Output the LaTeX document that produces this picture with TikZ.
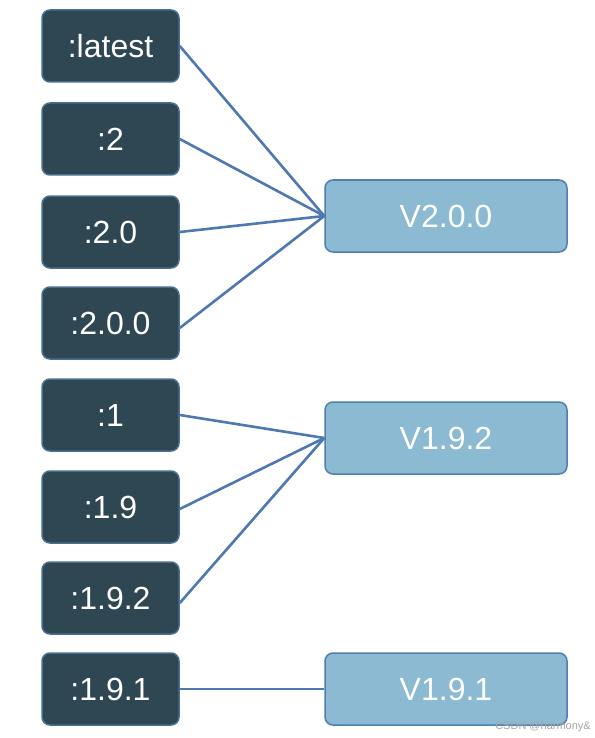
\documentclass[tikz,border=0pt]{standalone}
\usepackage{fontspec}
\setmainfont{Liberation Sans}
\definecolor{tagfill}{HTML}{2E4753}
\definecolor{tagborder}{HTML}{4A6F8E}
\definecolor{verfill}{HTML}{8BBAD2}
\definecolor{verborder}{HTML}{4F7FB0}
\definecolor{linkcol}{HTML}{4E78B0}
\begin{document}
\begin{tikzpicture}[x=1pt,y=-1pt,
  tagbox/.style={draw=tagborder, line width=1.5pt, fill=tagfill, rounded corners=8pt,
    minimum width=137pt, minimum height=72pt, inner sep=0pt, text=white, font=\fontsize{32}{32}\selectfont},
  verbox/.style={draw=verborder, line width=1.5pt, fill=verfill, rounded corners=8pt,
    minimum width=242pt, minimum height=72pt, inner sep=0pt, text=white, font=\fontsize{32}{32}\selectfont},
  link/.style={draw=linkcol, line width=2.6pt}]
\useasboundingbox (0,0) rectangle (594,738);
\fill[white] (0,0) rectangle (594,738);
\node[tagbox] (latest) at (110.5,46) {:latest};
\node[tagbox] (t2) at (110.5,139) {:2};
\node[tagbox] (t20) at (110.5,232) {:2.0};
\node[tagbox] (t200) at (110.5,323) {:2.0.0};
\node[tagbox] (t1) at (110.5,415) {:1};
\node[tagbox] (t19) at (110.5,507) {:1.9};
\node[tagbox] (t192) at (110.5,598) {:1.9.2};
\node[tagbox] (t191) at (110.5,689) {:1.9.1};
\node[verbox] (v200) at (446,216) {V2.0.0};
\node[verbox] (v192) at (446,438) {V1.9.2};
\node[verbox] (v191) at (446,689) {V1.9.1};
\path[link] (latest.east) -- (v200.west);
\path[link] (t2.east) -- (v200.west);
\path[link] (t20.east) -- (v200.west);
\path[link] ([yshift=-5pt]t200.east) -- (v200.west);
\path[link] (t1.east) -- (v192.west);
\path[link] ([yshift=-2pt]t19.east) -- (v192.west);
\path[link] ([yshift=-5pt]t192.east) -- (v192.west);
\path[link] (t191.east) -- (v191.west);
\node[font=\fontsize{11}{11}\selectfont, text=gray!70, anchor=south east, inner sep=1pt] (wm) at (592,733) {CSDN @harmony\&};
\end{tikzpicture}
\end{document}
